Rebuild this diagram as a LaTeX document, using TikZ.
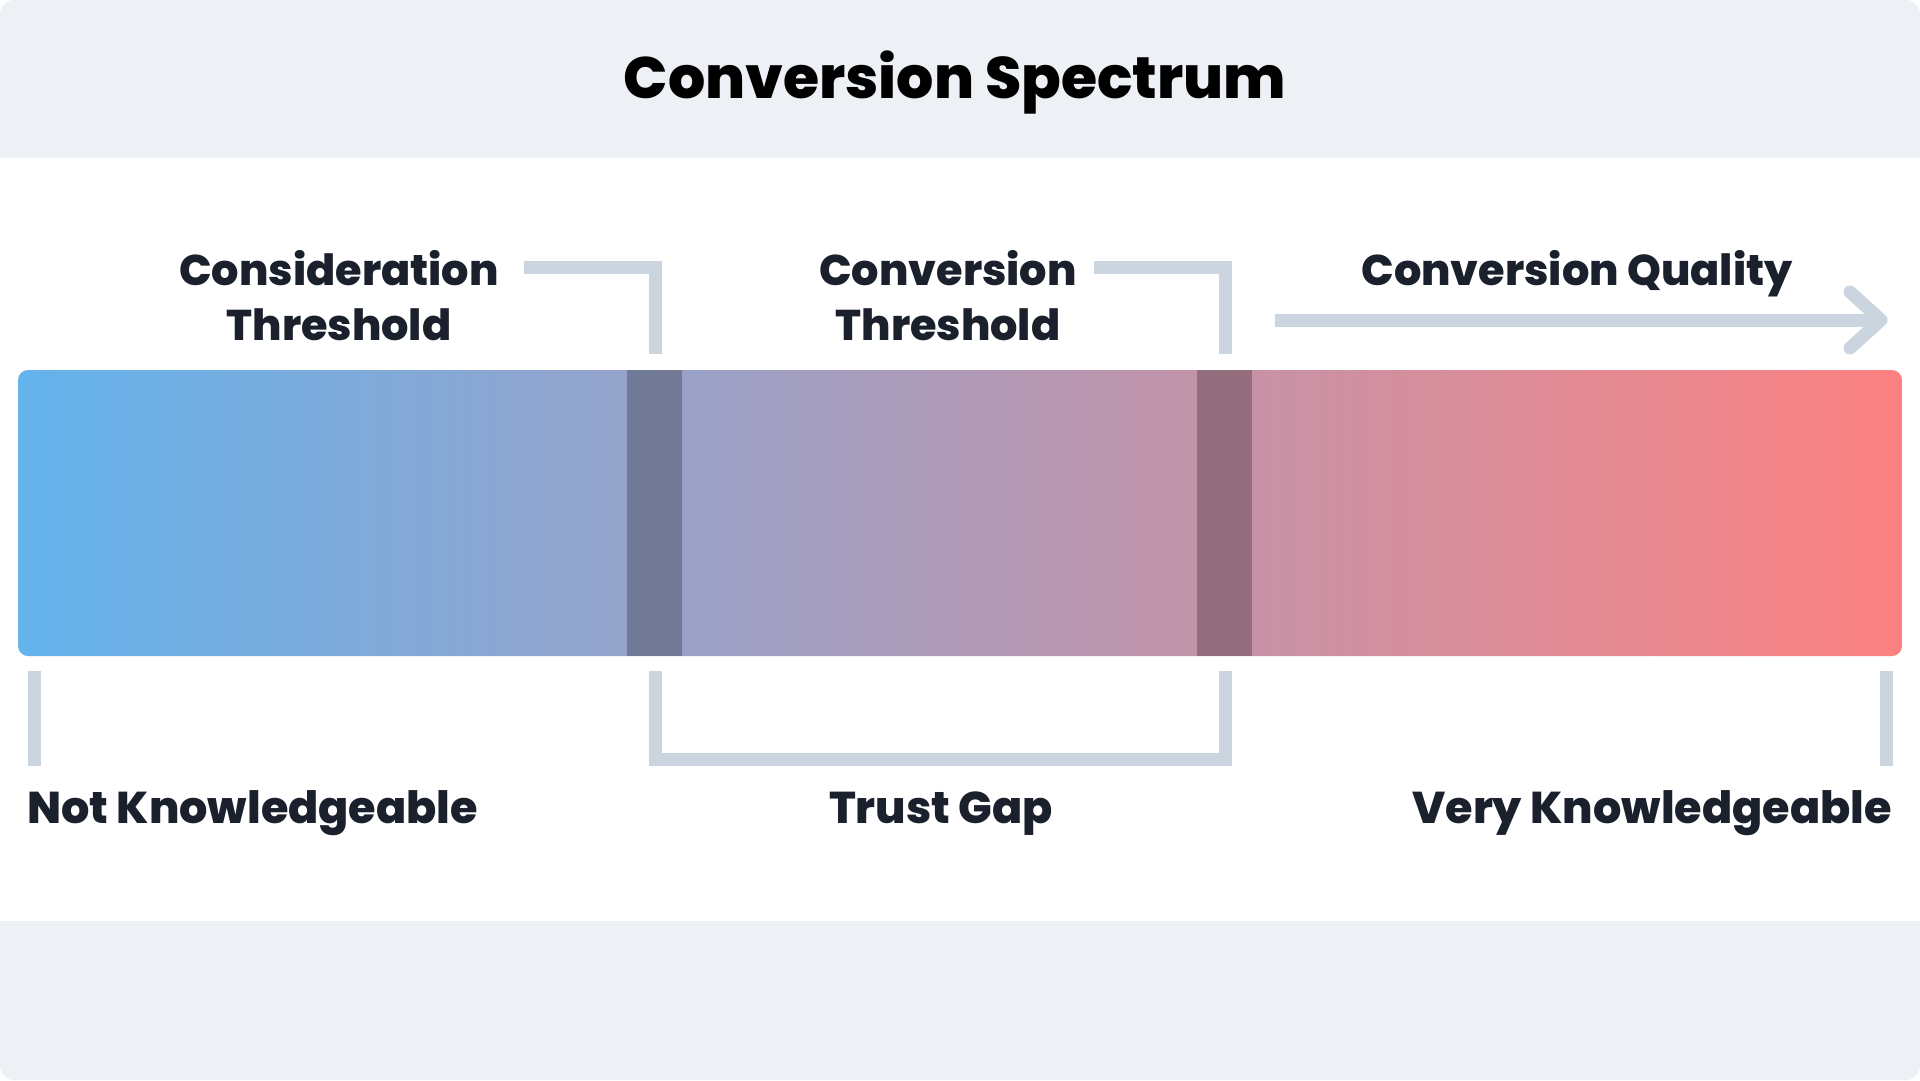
\documentclass[tikz,border=0pt]{standalone}
\usepackage{fontspec}
\setmainfont{Poppins}[BoldFont={Poppins ExtraBold}]
\definecolor{panelgray}{HTML}{EDF1F5}
\definecolor{bracketgray}{HTML}{CBD5E0}
\definecolor{ink}{HTML}{1A202C}
\definecolor{barblue}{HTML}{63B3ED}
\definecolor{barred}{HTML}{FC8181}
\begin{document}
\begin{tikzpicture}[x=1pt,y=-1pt,
  bracket/.style={draw=bracketgray, line width=13pt},
  lbl/.style={text=ink, font=\fontsize{43}{55}\selectfont\bfseries, inner sep=0pt, anchor=base},
  endlbl/.style={lbl, font=\fontsize{44.5}{55}\selectfont\bfseries},
  ttl/.style={text=black, font=\fontsize{58.5}{70}\selectfont\bfseries, inner sep=0pt, anchor=base},
  band/.style={fill=black, fill opacity=0.25}
]
\useasboundingbox (0,0) rectangle (1920,1080);
% page panels
\fill[panelgray, rounded corners=14pt] (0,0) rectangle (1920,1080);
\fill[white] (0,158) rectangle (1920,921);

% spectrum bar with its two threshold bands
\shade[left color=barblue, right color=barred, rounded corners=10pt] (18,370) rectangle (1902,656);
\fill[band] (627,370) rectangle (682,656);
\fill[band] (1197,370) rectangle (1252,656);

% title
\node[ttl] (title) at (955,98) {Conversion Spectrum};

% labels above the bar
\node[lbl] (consA) at (339,285) {Consideration};
\node[lbl] (consB) at (339,340) {Threshold};
\node[lbl] (convA) at (948,285) {Conversion};
\node[lbl] (convB) at (948,340) {Threshold};
\node[lbl] (quality) at (1577,285) {Conversion Quality};

% labels below the bar
\node[endlbl, anchor=base west] (notk) at (27,823) {Not Knowledgeable};
\node[endlbl] (trust) at (941,823) {Trust Gap};
\node[endlbl, anchor=base east] (veryk) at (1892,823) {Very Knowledgeable};

% bracket points
\coordinate (c1s) at (524,267.5);
\coordinate (c1k) at (655,267.5);
\coordinate (c1e) at (655,354);
\coordinate (c2s) at (1094,267.5);
\coordinate (c2k) at (1225,267.5);
\coordinate (c2e) at (1225,354);
\coordinate (qs) at (1275,320);
\coordinate (qe) at (1878,320);
\coordinate (qtip) at (1881,320);
\coordinate (qup) at (1850,292);
\coordinate (qdn) at (1850,348);
\coordinate (lt1) at (34,671);
\coordinate (lt2) at (34,766);
\coordinate (rt1) at (1886,671);
\coordinate (rt2) at (1886,766);
\coordinate (g1) at (655,671);
\coordinate (g2) at (655,759.5);
\coordinate (g3) at (1225,759.5);
\coordinate (g4) at (1225,671);

% threshold brackets
\draw[bracket] (c1s) -- (c1k) -- (c1e);
\draw[bracket] (c2s) -- (c2k) -- (c2e);

% quality arrow
\draw[bracket] (qs) -- (qe);
\draw[bracket, line cap=round, line join=round] (qup) -- (qtip) -- (qdn);

% end ticks and trust gap bracket
\draw[bracket] (lt1) -- (lt2);
\draw[bracket] (rt1) -- (rt2);
\draw[bracket] (g1) -- (g2) -- (g3) -- (g4);
\end{tikzpicture}
\end{document}
